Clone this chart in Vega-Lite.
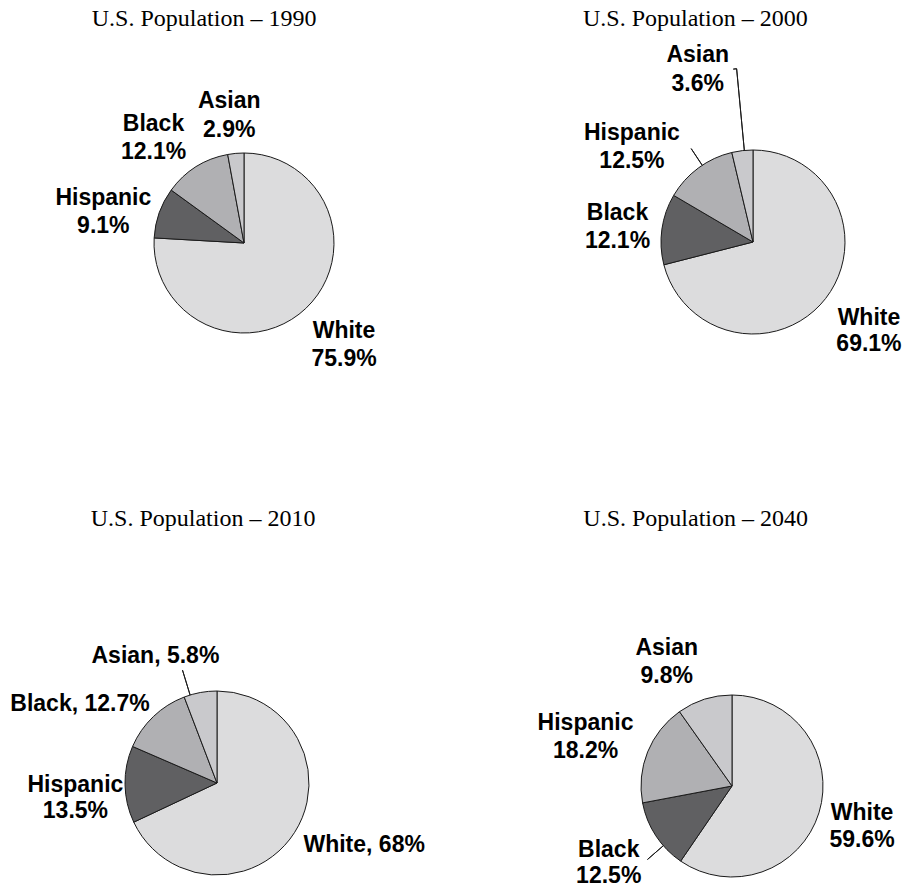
{
  "$schema": "https://vega.github.io/schema/vega-lite/v6.json",
  "padding": 0,
  "autosize": {"type": "pad"},
  "background": "white",
  "data": {"values": [
    {"year": 1990, "race": "White", "pct": 75.9, "slot": 1, "label": "White\n75.9%"},
    {"year": 1990, "race": "Hispanic", "pct": 9.1, "slot": 2, "label": "Hispanic\n9.1%"},
    {"year": 1990, "race": "Black", "pct": 12.1, "slot": 3, "label": "Black\n12.1%"},
    {"year": 1990, "race": "Asian", "pct": 2.9, "slot": 4, "label": "Asian\n2.9%"},
    {"year": 2000, "race": "White", "pct": 69.1, "slot": 1, "label": "White\n69.1%"},
    {"year": 2000, "race": "Black", "pct": 12.1, "slot": 2, "label": "Black\n12.1%"},
    {"year": 2000, "race": "Hispanic", "pct": 12.5, "slot": 3, "label": "Hispanic\n12.5%"},
    {"year": 2000, "race": "Asian", "pct": 3.6, "slot": 4, "label": "Asian\n3.6%"},
    {"year": 2010, "race": "White", "pct": 68, "slot": 1, "label": "White, 68%"},
    {"year": 2010, "race": "Hispanic", "pct": 13.5, "slot": 2, "label": "Hispanic\n13.5%"},
    {"year": 2010, "race": "Black", "pct": 12.7, "slot": 3, "label": "Black, 12.7%"},
    {"year": 2010, "race": "Asian", "pct": 5.8, "slot": 4, "label": "Asian, 5.8%"},
    {"year": 2040, "race": "White", "pct": 59.6, "slot": 1, "label": "White\n59.6%"},
    {"year": 2040, "race": "Black", "pct": 12.5, "slot": 2, "label": "Black\n12.5%"},
    {"year": 2040, "race": "Hispanic", "pct": 18.2, "slot": 3, "label": "Hispanic\n18.2%"},
    {"year": 2040, "race": "Asian", "pct": 9.8, "slot": 4, "label": "Asian\n9.8%"}
  ]},
  "columns": 2,
  "align": "each",
  "bounds": "flush",
  "spacing": {"row": 204, "column": 112},
  "concat": [
    {
      "width": 488, "height": 486,
      "title": {"text": "U.S. Population – 1990", "anchor": "start", "frame": "group", "orient": "top", "offset": 0, "baseline": "alphabetic", "dx": 91.7, "dy": 49.5},
      "transform": [{"filter": "datum.year === 1990"}],
      "layer": [
        {"mark": {"type": "arc", "radius": 90},
         "encoding": {"theta": {"field": "pct", "type": "quantitative", "stack": true},
           "order": {"field": "slot", "type": "quantitative"},
           "color": {"field": "slot", "type": "ordinal", "scale": {"domain": [1, 2, 3, 4], "range": ["#dcdcdd", "#606062", "#b0b0b3", "#c9c9cc"]}, "legend": null}}},
        {"mark": {"type": "text", "radius": 90, "dx": 38.2, "dy": 29.3},
         "encoding": {"theta": {"field": "pct", "type": "quantitative", "stack": true}, "order": {"field": "slot", "type": "quantitative"},
           "text": {"condition": {"test": "datum.slot === 1", "field": "label", "type": "nominal"}, "value": ""}}},
        {"mark": {"type": "text", "radius": 90, "dx": -55.9, "dy": -7.8},
         "encoding": {"theta": {"field": "pct", "type": "quantitative", "stack": true}, "order": {"field": "slot", "type": "quantitative"},
           "text": {"condition": {"test": "datum.slot === 2", "field": "label", "type": "nominal"}, "value": ""}}},
        {"mark": {"type": "text", "radius": 90, "dx": -42.5, "dy": -36.2},
         "encoding": {"theta": {"field": "pct", "type": "quantitative", "stack": true}, "order": {"field": "slot", "type": "quantitative"},
           "text": {"condition": {"test": "datum.slot === 3", "field": "label", "type": "nominal"}, "value": ""}}},
        {"mark": {"type": "text", "radius": 90, "dx": -6.6, "dy": -45.1},
         "encoding": {"theta": {"field": "pct", "type": "quantitative", "stack": true}, "order": {"field": "slot", "type": "quantitative"},
           "text": {"condition": {"test": "datum.slot === 4", "field": "label", "type": "nominal"}, "value": ""}}}
      ]
    },
    {
      "width": 306, "height": 484,
      "title": {"text": "U.S. Population – 2000", "anchor": "start", "frame": "group", "orient": "top", "offset": 0, "baseline": "alphabetic", "dx": -17, "dy": 49.5},
      "transform": [{"filter": "datum.year === 2000"}],
      "layer": [
        {"mark": {"type": "arc", "radius": 92},
         "encoding": {"theta": {"field": "pct", "type": "quantitative", "stack": true},
           "order": {"field": "slot", "type": "quantitative"},
           "color": {"field": "slot", "type": "ordinal", "scale": {"domain": [1, 2, 3, 4], "range": ["#dcdcdd", "#606062", "#b0b0b3", "#c9c9cc"]}, "legend": null}}},
        {"transform": [{"stack": "pct", "groupby": ["year"], "sort": [{"field": "slot", "order": "ascending"}], "as": ["t0", "t1"]}, {"filter": "datum.slot === 4"}],
         "mark": {"type": "arc", "radius": 174, "radius2": 92, "thetaOffset": 0.13823, "theta2Offset": 0.13823, "filled": false, "color": "#1a1a1a", "strokeWidth": 1},
         "encoding": {"theta": {"field": "t0", "type": "quantitative", "stack": null}, "theta2": {"field": "t0"}}},
        {"transform": [{"stack": "pct", "groupby": ["year"], "sort": [{"field": "slot", "order": "ascending"}], "as": ["t0", "t1"]}, {"filter": "datum.slot === 4"}],
         "mark": {"type": "arc", "radius": 174, "radius2": 174, "thetaOffset": 0.11903, "theta2Offset": 0.13823, "filled": false, "color": "#1a1a1a", "strokeWidth": 1},
         "encoding": {"theta": {"field": "t0", "type": "quantitative", "stack": null}, "theta2": {"field": "t0"}}},
        {"transform": [{"stack": "pct", "groupby": ["year"], "sort": [{"field": "slot", "order": "ascending"}], "as": ["t0", "t1"]}, {"filter": "datum.slot === 3"}],
         "mark": {"type": "arc", "radius": 112, "radius2": 92, "thetaOffset": 0.45501, "theta2Offset": 0.45501, "filled": false, "color": "#1a1a1a", "strokeWidth": 1},
         "encoding": {"theta": {"field": "t0", "type": "quantitative", "stack": null}, "theta2": {"field": "t0"}}},
        {"mark": {"type": "text", "radius": 92, "dx": 43.3, "dy": 26.6, "lineHeight": 26},
         "encoding": {"theta": {"field": "pct", "type": "quantitative", "stack": true}, "order": {"field": "slot", "type": "quantitative"},
           "text": {"condition": {"test": "datum.slot === 1", "field": "label", "type": "nominal"}, "value": ""}}},
        {"mark": {"type": "text", "radius": 92, "dx": -44.4, "dy": -9.1, "lineHeight": 28},
         "encoding": {"theta": {"field": "pct", "type": "quantitative", "stack": true}, "order": {"field": "slot", "type": "quantitative"},
           "text": {"condition": {"test": "datum.slot === 2", "field": "label", "type": "nominal"}, "value": ""}}},
        {"mark": {"type": "text", "radius": 92, "dx": -66.4, "dy": -28},
         "encoding": {"theta": {"field": "pct", "type": "quantitative", "stack": true}, "order": {"field": "slot", "type": "quantitative"},
           "text": {"condition": {"test": "datum.slot === 3", "field": "label", "type": "nominal"}, "value": ""}}},
        {"mark": {"type": "text", "radius": 92, "dx": -44.6, "dy": -88.9, "lineHeight": 29},
         "encoding": {"theta": {"field": "pct", "type": "quantitative", "stack": true}, "order": {"field": "slot", "type": "quantitative"},
           "text": {"condition": {"test": "datum.slot === 4", "field": "label", "type": "nominal"}, "value": ""}}}
      ]
    },
    {
      "width": 434, "height": 186,
      "title": {"text": "U.S. Population – 2010", "anchor": "start", "frame": "group", "orient": "top", "offset": 0, "baseline": "alphabetic", "dx": 90.7, "dy": -95.3},
      "transform": [{"filter": "datum.year === 2010"}],
      "layer": [
        {"mark": {"type": "arc", "radius": 92},
         "encoding": {"theta": {"field": "pct", "type": "quantitative", "stack": true},
           "order": {"field": "slot", "type": "quantitative"},
           "color": {"field": "slot", "type": "ordinal", "scale": {"domain": [1, 2, 3, 4], "range": ["#dcdcdd", "#606062", "#b0b0b3", "#c9c9cc"]}, "legend": null}}},
        {"transform": [{"stack": "pct", "groupby": ["year"], "sort": [{"field": "slot", "order": "ascending"}], "as": ["t0", "t1"]}, {"filter": "datum.slot === 4"}],
         "mark": {"type": "arc", "radius": 118, "radius2": 92, "thetaOffset": 0.06772, "theta2Offset": 0.06772, "filled": false, "color": "#1a1a1a", "strokeWidth": 1},
         "encoding": {"theta": {"field": "t0", "type": "quantitative", "stack": null}, "theta2": {"field": "t0"}}},
        {"mark": {"type": "text", "radius": 92, "dx": 69.5, "dy": 19.4},
         "encoding": {"theta": {"field": "pct", "type": "quantitative", "stack": true}, "order": {"field": "slot", "type": "quantitative"},
           "text": {"condition": {"test": "datum.slot === 1", "field": "label", "type": "nominal"}, "value": ""}}},
        {"mark": {"type": "text", "radius": 92, "dx": -49.6, "dy": 7.3, "lineHeight": 26.6},
         "encoding": {"theta": {"field": "pct", "type": "quantitative", "stack": true}, "order": {"field": "slot", "type": "quantitative"},
           "text": {"condition": {"test": "datum.slot === 2", "field": "label", "type": "nominal"}, "value": ""}}},
        {"mark": {"type": "text", "radius": 92, "dx": -73.4, "dy": -5.5},
         "encoding": {"theta": {"field": "pct", "type": "quantitative", "stack": true}, "order": {"field": "slot", "type": "quantitative"},
           "text": {"condition": {"test": "datum.slot === 3", "field": "label", "type": "nominal"}, "value": ""}}},
        {"mark": {"type": "text", "radius": 92, "dx": -44.9, "dy": -29.2},
         "encoding": {"theta": {"field": "pct", "type": "quantitative", "stack": true}, "order": {"field": "slot", "type": "quantitative"},
           "text": {"condition": {"test": "datum.slot === 4", "field": "label", "type": "nominal"}, "value": ""}}}
      ]
    },
    {
      "width": 264, "height": 192,
      "title": {"text": "U.S. Population – 2040", "anchor": "start", "frame": "group", "orient": "top", "offset": 0, "baseline": "alphabetic", "dx": -16.7, "dy": -87},
      "transform": [{"filter": "datum.year === 2040"}],
      "layer": [
        {"mark": {"type": "arc", "radius": 91},
         "encoding": {"theta": {"field": "pct", "type": "quantitative", "stack": true},
           "order": {"field": "slot", "type": "quantitative"},
           "color": {"field": "slot", "type": "ordinal", "scale": {"domain": [1, 2, 3, 4], "range": ["#dcdcdd", "#606062", "#b0b0b3", "#c9c9cc"]}, "legend": null}}},
        {"transform": [{"stack": "pct", "groupby": ["year"], "sort": [{"field": "slot", "order": "ascending"}], "as": ["t0", "t1"]}, {"filter": "datum.slot === 2"}],
         "mark": {"type": "arc", "radius": 112, "radius2": 91, "thetaOffset": 0.25569, "theta2Offset": 0.25569, "filled": false, "color": "#1a1a1a", "strokeWidth": 1},
         "encoding": {"theta": {"field": "t0", "type": "quantitative", "stack": null}, "theta2": {"field": "t0"}}},
        {"mark": {"type": "text", "radius": 91, "dx": 43.1, "dy": 7.1, "lineHeight": 26.7},
         "encoding": {"theta": {"field": "pct", "type": "quantitative", "stack": true}, "order": {"field": "slot", "type": "quantitative"},
           "text": {"condition": {"test": "datum.slot === 1", "field": "label", "type": "nominal"}, "value": ""}}},
        {"mark": {"type": "text", "radius": 91, "dx": -47.1, "dy": 21.5, "lineHeight": 26},
         "encoding": {"theta": {"field": "pct", "type": "quantitative", "stack": true}, "order": {"field": "slot", "type": "quantitative"},
           "text": {"condition": {"test": "datum.slot === 2", "field": "label", "type": "nominal"}, "value": ""}}},
        {"mark": {"type": "text", "radius": 91, "dx": -62.1, "dy": -21.9},
         "encoding": {"theta": {"field": "pct", "type": "quantitative", "stack": true}, "order": {"field": "slot", "type": "quantitative"},
           "text": {"condition": {"test": "datum.slot === 3", "field": "label", "type": "nominal"}, "value": ""}}},
        {"mark": {"type": "text", "radius": 91, "dx": -37.7, "dy": -44.3},
         "encoding": {"theta": {"field": "pct", "type": "quantitative", "stack": true}, "order": {"field": "slot", "type": "quantitative"},
           "text": {"condition": {"test": "datum.slot === 4", "field": "label", "type": "nominal"}, "value": ""}}}
      ]
    }
  ],
  "config": {
    "view": {"stroke": null},
    "arc": {"stroke": "#1a1a1a", "strokeWidth": 1},
    "text": {"font": "Liberation Sans", "fontWeight": "bold", "fontSize": 23, "lineBreak": "\n", "lineHeight": 28.5, "align": "center", "baseline": "alphabetic", "color": "#000000"},
    "title": {"font": "Liberation Serif", "fontSize": 24, "fontWeight": "normal", "color": "#000000"}
  }
}
